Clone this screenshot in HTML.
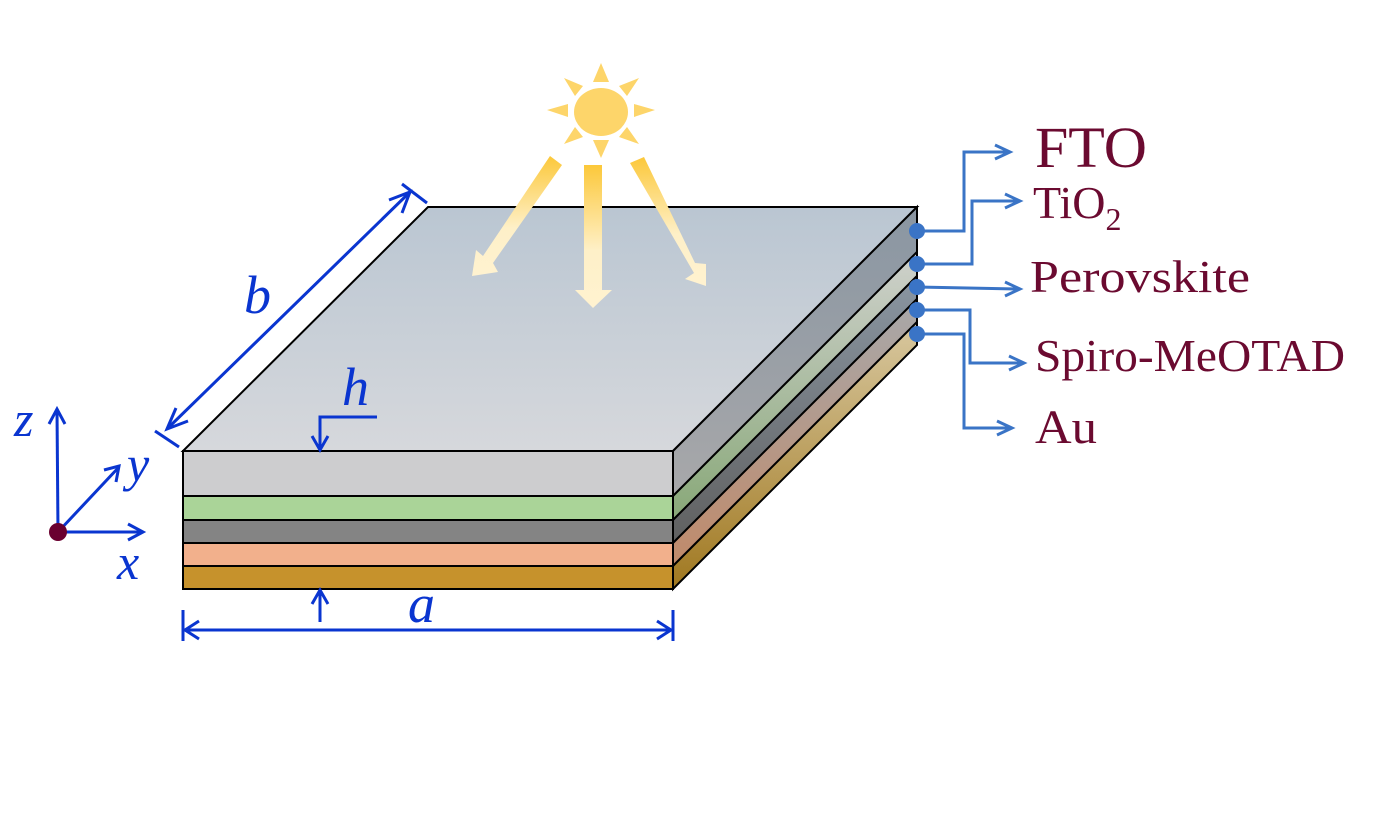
<!DOCTYPE html>
<html><head><meta charset="utf-8"><style>html,body{margin:0;padding:0;background:#fff}svg{display:block}</style></head>
<body>
<svg width="1398" height="840" viewBox="0 0 1398 840" xmlns="http://www.w3.org/2000/svg">
<defs>
<linearGradient id="top" x1="0" y1="0" x2="0" y2="1"><stop offset="0" stop-color="#bac6d2"/><stop offset="1" stop-color="#d6d8dc"/></linearGradient>
<linearGradient id="s1" x1="0" y1="0" x2="0" y2="1"><stop offset="0" stop-color="#8a96a2"/><stop offset="1" stop-color="#a8a8aa"/></linearGradient>
<linearGradient id="s2" x1="0" y1="0" x2="0" y2="1"><stop offset="0" stop-color="#cfd1cc"/><stop offset="1" stop-color="#88a878"/></linearGradient>
<linearGradient id="s3" x1="0" y1="0" x2="0" y2="1"><stop offset="0" stop-color="#8a96a2"/><stop offset="1" stop-color="#606060"/></linearGradient>
<linearGradient id="s4" x1="0" y1="0" x2="0" y2="1"><stop offset="0" stop-color="#a8a8aa"/><stop offset="1" stop-color="#c08a6a"/></linearGradient>
<linearGradient id="s5" x1="0" y1="0" x2="0" y2="1"><stop offset="0" stop-color="#d8c8a0"/><stop offset="1" stop-color="#a07820"/></linearGradient>
<linearGradient id="beam" x1="0" y1="0" x2="0" y2="1"><stop offset="0" stop-color="#fcc83a"/><stop offset="0.6" stop-color="#fef0c8"/><stop offset="1" stop-color="#fff2d0"/></linearGradient>
</defs>
<polygon points="183,451 428,207 917,207 673,451" fill="url(#top)" stroke="#000" stroke-width="2"/>
<polygon points="673,451 917,207 917,252 673,496" fill="url(#s1)" stroke="#000" stroke-width="2"/>
<polygon points="673,496 917,252 917,276 673,520" fill="url(#s2)" stroke="#000" stroke-width="2"/>
<polygon points="673,520 917,276 917,299 673,543" fill="url(#s3)" stroke="#000" stroke-width="2"/>
<polygon points="673,543 917,299 917,322 673,566" fill="url(#s4)" stroke="#000" stroke-width="2"/>
<polygon points="673,566 917,322 917,345 673,589" fill="url(#s5)" stroke="#000" stroke-width="2"/>
<rect x="183" y="451" width="490" height="45" fill="#cdcdcf" stroke="#000" stroke-width="2"/>
<rect x="183" y="496" width="490" height="24" fill="#aad498" stroke="#000" stroke-width="2"/>
<rect x="183" y="520" width="490" height="23" fill="#848484" stroke="#000" stroke-width="2"/>
<rect x="183" y="543" width="490" height="23" fill="#f2b08c" stroke="#000" stroke-width="2"/>
<rect x="183" y="566" width="490" height="23" fill="#c6922c" stroke="#000" stroke-width="2"/>
<g fill="#fdd56a">
<ellipse cx="601" cy="112" rx="27" ry="24"/>
<polygon points="601,63 593,82 609,82"/>
<polygon points="601,158 593,140 609,140"/>
<polygon points="547,110 568,104 568,117"/>
<polygon points="655,110 634,104 634,117"/>
<polygon points="564,78 583,86 575,96"/>
<polygon points="639,78 619,86 627,96"/>
<polygon points="564,144 575,127 583,137"/>
<polygon points="639,144 627,127 619,137"/>
</g>
<g fill="url(#beam)">
<polygon points="550,156 562,165 493,263 498,272 472,276 476,250 483,256"/>
<polygon points="584,165 602,165 602,290 612,290 593,308 575,290 584,290"/>
<polygon points="630,163 644,157 695,263 706,264 706,286 685,279 694,273"/>
</g>
<g stroke="#0a35d0" stroke-width="3" fill="none">
<line x1="168" y1="428" x2="410" y2="192"/>
<polyline points="176,408 167,429 188,421"/>
<polyline points="389,200 410,192 402,213"/>
<line x1="155" y1="431" x2="179" y2="447"/>
<line x1="402" y1="184" x2="427" y2="203"/>
<polyline points="377,417 320,417 320,449"/>
<polyline points="312,436 320,450 328,436"/>
<line x1="320" y1="622" x2="320" y2="591"/>
<polyline points="312,604 320,590 328,604"/>
<line x1="185" y1="630" x2="671" y2="630"/>
<line x1="183" y1="610" x2="183" y2="641"/>
<line x1="673" y1="610" x2="673" y2="641"/>
<polyline points="199,621 185,630 199,639"/>
<polyline points="657,621 671,630 657,639"/>
<line x1="58" y1="532" x2="57" y2="410"/>
<polyline points="49,424 57,409 65,424"/>
<line x1="58" y1="532" x2="119" y2="467"/>
<polyline points="104,470 119,466 116,482"/>
<line x1="58" y1="532" x2="142" y2="532"/>
<polyline points="128,524 143,532 128,540"/>
</g>
<circle cx="58" cy="532" r="9" fill="#6a0030"/>
<g font-family="Liberation Serif, serif" font-style="italic" fill="#0a35d0" font-size="54">
<text x="244" y="313">b</text>
<text x="342" y="405">h</text>
<text x="408" y="622">a</text>
<text x="14" y="436" font-size="50">z</text>
<text x="127" y="481" font-size="50">y</text>
<text x="117" y="579" font-size="50">x</text>
</g>
<g stroke="#3a74c6" stroke-width="3" fill="none">
<polyline points="917,231 964,231 964,152 1008,152"/>
<polyline points="995,145 1010,152 995,159"/>
<polyline points="917,264 972,264 972,201 1018,201"/>
<polyline points="1005,194 1020,201 1005,208"/>
<polyline points="917,287 1018,289"/>
<polyline points="1005,282 1020,289 1005,296"/>
<polyline points="917,310 970,310 970,363 1022,363"/>
<polyline points="1009,356 1024,363 1009,370"/>
<polyline points="917,334 964,334 964,428 1010,428"/>
<polyline points="997,421 1012,428 997,435"/>
</g>
<g fill="#3a74c6">
<circle cx="917" cy="231" r="8"/><circle cx="917" cy="264" r="8"/><circle cx="917" cy="287" r="8"/><circle cx="917" cy="310" r="8"/><circle cx="917" cy="334" r="8"/>
</g>
<g font-family="Liberation Serif, serif" fill="#6b0a30">
<text x="1035" y="167" font-size="58" textLength="112" lengthAdjust="spacingAndGlyphs">FTO</text>
<text x="1033" y="218" font-size="46">TiO<tspan font-size="32" dy="12">2</tspan></text>
<text x="1030" y="292" font-size="46" textLength="220" lengthAdjust="spacingAndGlyphs">Perovskite</text>
<text x="1035" y="371" font-size="46" textLength="310" lengthAdjust="spacingAndGlyphs">Spiro-MeOTAD</text>
<text x="1035" y="443" font-size="48" textLength="62" lengthAdjust="spacingAndGlyphs">Au</text>
</g>
</svg>
</body></html>
